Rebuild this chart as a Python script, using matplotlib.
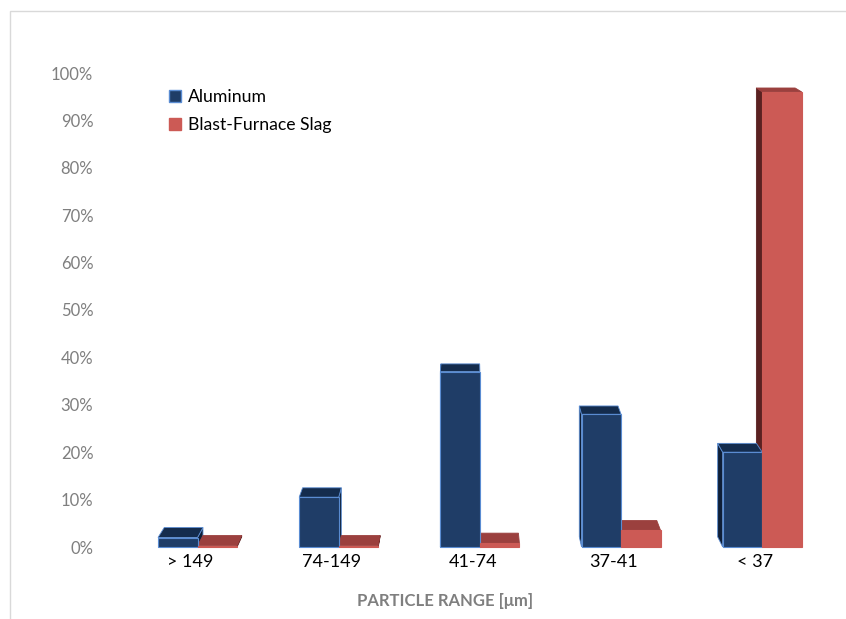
import matplotlib
matplotlib.use("Agg")
import numpy as np
from matplotlib import pyplot as plt
from matplotlib.patches import Polygon, Patch, Rectangle

plt.rcParams['font.family'] = ['Lato', 'DejaVu Sans']

# data
categories = ['> 149', '74-149', '41-74', '37-41', '< 37']
aluminum = [2.0, 10.5, 37.0, 28.0, 20.0]
slag = [0.3, 0.3, 0.8, 3.5, 96.0]
yticks = list(range(0, 101, 10))

# colours
AL_FRONT, AL_TOP, AL_SIDE, AL_EDGE = '#1f3d67', '#142c4d', '#0e1e36', '#5a8cd2'
SL_FRONT, SL_TOP, SL_SIDE = '#cc5a55', '#9b403e', '#5a2121'

W, H = 846, 619
fig = plt.figure(figsize=(W / 100, H / 100), dpi=100)
ax = fig.add_axes([110 / W, 72 / H, 720 / W, 474 / H])
ax.set_xlim(-0.62, 4.48)
ax.set_ylim(0, 100)

# faked perspective: back of each face is pulled towards a vanishing point
vanish_x, vanish_y = 1.93, 158.0
fx, fy = 0.02, 0.0135
bar_w = 0.28
label_shift = -0.05


def back(x, y):
    return x + fx * (vanish_x - x), y + fy * (vanish_y - y)


def bar3d(x0, h, front, top, side, edge=None):
    x1 = x0 + bar_w
    # top face
    tl, tr = back(x0, h), back(x1, h)
    ax.add_patch(Polygon([(x0, h), (x1, h), tr, tl], closed=True,
                         facecolor=top, edgecolor=edge or top, lw=0.6,
                         zorder=3, clip_on=False))
    # side face (visible side depends on position vs. vanishing point)
    xs = x1 if x1 < vanish_x else x0
    b0, bh = back(xs, 0), back(xs, h)
    ax.add_patch(Polygon([(xs, 0), (xs, h), bh, b0], closed=True,
                         facecolor=side, edgecolor=edge or side, lw=0.6,
                         zorder=2, clip_on=False))
    ax.add_patch(Rectangle((x0, 0), bar_w, h, facecolor=front,
                           edgecolor=edge or front, lw=0.8, zorder=4,
                           clip_on=False))


xs = np.arange(len(categories))
for i in xs:
    bar3d(i - bar_w, aluminum[i], AL_FRONT, AL_TOP, AL_SIDE, AL_EDGE)
    bar3d(i, slag[i], SL_FRONT, SL_TOP, SL_SIDE)

for s in ax.spines.values():
    s.set_visible(False)
ax.set_yticks(yticks)
ax.set_yticklabels([f'{t}%' for t in yticks], color='#7f7f7f', fontsize=12)
ax.set_xticks(xs + label_shift)
ax.set_xticklabels(categories, fontsize=13, color='#000000')
ax.tick_params(axis='y', length=0, pad=12)
ax.tick_params(axis='x', length=0, pad=5)

fig.text(445 / W, 1 - 601 / H, 'PARTICLE RANGE [μm]', ha='center', va='center',
         fontsize=12, fontweight='bold', color='#7f7f7f')

handles = [Patch(facecolor=AL_FRONT, edgecolor=AL_EDGE, label='Aluminum'),
           Patch(facecolor=SL_FRONT, edgecolor=SL_FRONT, label='Blast-Furnace Slag')]
ax.legend(handles=handles, loc='upper left', bbox_to_anchor=(153 / W, 1 - 73 / H),
          bbox_transform=fig.transFigure, frameon=False, fontsize=12.7,
          handlelength=0.7, handleheight=0.7, handletextpad=0.4, labelspacing=0.7)

# light chart-area border (only top and left fall inside the picture)
fig.add_artist(Rectangle((10 / W, -0.1), 1.2, 1 - 11 / H + 0.1,
                         transform=fig.transFigure, facecolor='none',
                         edgecolor='#d9d9d9', lw=1))

fig.savefig('out.png', dpi=100)
